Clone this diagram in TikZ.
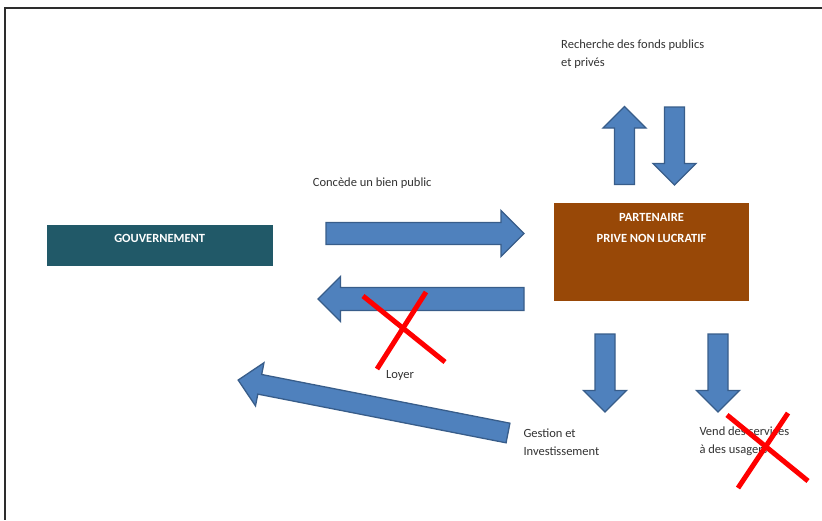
\documentclass[tikz,border=0pt]{standalone}
\usepackage{fontspec}
\setmainfont{Carlito}
\definecolor{govcolor}{RGB}{33,89,104}
\definecolor{partcolor}{RGB}{152,72,7}
\definecolor{arrowcolor}{RGB}{79,129,189}
\definecolor{arrowedge}{RGB}{56,93,138}
\definecolor{textcolor}{RGB}{50,50,50}
\definecolor{framecolor}{RGB}{45,45,45}

% block arrow: tail, angle, length, shaft half width, head half width
\newcommand{\blockarrow}[5]{%
  \begin{scope}[shift={#1}, rotate=#2]
    \draw[arrowbody] (0,-#4) -- ({#3-#5},-#4) -- ({#3-#5},-#5) -- (#3,0)
      -- ({#3-#5},#5) -- ({#3-#5},#4) -- (0,#4) -- cycle;
  \end{scope}}

\begin{document}
\begin{tikzpicture}[%
    x=1pt, y=-1pt,              % work in pixels, top to bottom
    ]
\tikzset{
  arrowbody/.style={fill=arrowcolor, draw=arrowedge, line width=1.3pt, line join=miter},
  lbl/.style={inner sep=0pt, align=left, text=textcolor,
    font=\fontsize{12.5}{18}\selectfont},
  boxlbl/.style={inner xsep=0pt, inner ysep=4pt, align=center, text=white,
    font=\fontsize{12.5}{21.7}\selectfont\bfseries},
  cross/.style={draw=red, line width=5pt},
}
\useasboundingbox (0,0) rectangle (822,520);

% frame
\draw[framecolor, line width=2.2pt] (822,8.3) -- (4.7,8.3) -- (4.7,520);

% boxes
\node[boxlbl, fill=govcolor, minimum width=226pt,
  text height=13.3pt, text depth=19.7pt] (gouv) at (159.7,245.5) {GOUVERNEMENT};
\node[boxlbl, fill=partcolor, minimum width=195pt,
  text height=35.4pt, text depth=54.3pt] (part) at (651.5,252.2) {PARTENAIRE\\PRIVE NON LUCRATIF};

% arrows
\blockarrow{(326,233.5)}{0}{198}{11}{23}
\blockarrow{(524,299)}{180}{206}{11.5}{22.5}
\blockarrow{(624.5,184.5)}{90}{78}{10}{21.5}
\blockarrow{(674.5,107)}{-90}{78}{10}{21.5}
\blockarrow{(605,334)}{-90}{78}{10}{21.5}
\blockarrow{(718,334)}{-90}{78}{10}{21.5}
\blockarrow{(508,433)}{168.9}{275}{10}{22}

% labels (base = last line)
\node[lbl, anchor=base west] (recherche) at (561,66.3) {Recherche des fonds publics\\et privés};
\node[lbl, anchor=base west] (concede) at (312.7,186.7) {Concède un bien public};
\node[lbl, anchor=base west] (loyer) at (386,378) {Loyer};
\node[lbl, anchor=base west] (gestion) at (523.3,455) {Gestion et\\Investissement};
\node[lbl, anchor=base west] (vend) at (699.3,453) {Vend des services\\à des usagers};

% crossed out
\draw[cross] (363,296) -- (445,362);
\draw[cross] (426,292) -- (377,369);
\draw[cross] (727,415) -- (808,481);
\draw[cross] (788,413) -- (738,488);

\end{tikzpicture}
\end{document}
